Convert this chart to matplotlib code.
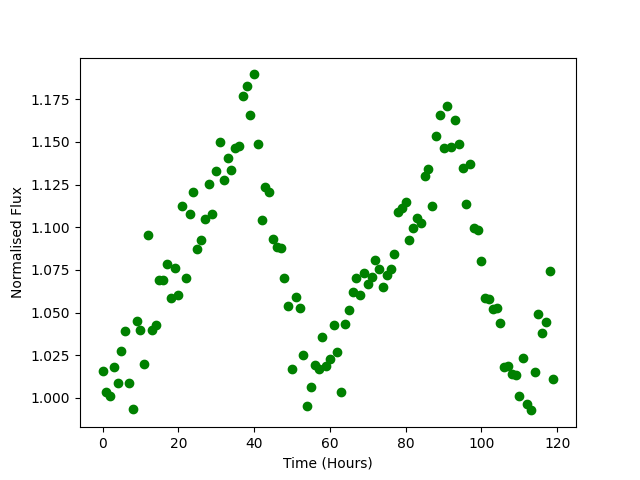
import matplotlib
matplotlib.use("Agg")
import matplotlib.pyplot as plt

# hourly samples, 0..119
time_hours = list(range(120))

flux = [
    1.0158, 1.0034, 1.0013, 1.0181, 1.0089, 1.0277, 1.0395, 1.0085, 0.9933, 1.0449,
    1.0400, 1.0198, 1.0952, 1.0400, 1.0430, 1.0693, 1.0693, 1.0783, 1.0588, 1.0764,
    1.0605, 1.1122, 1.0705, 1.1075, 1.1204, 1.0870, 1.0928, 1.1050, 1.1251, 1.1075,
    1.1327, 1.1499, 1.1277, 1.1409, 1.1335, 1.1463, 1.1474, 1.1768, 1.1827, 1.1656,
    1.1896, 1.1486, 1.1040, 1.1235, 1.1208, 1.0934, 1.0885, 1.0879, 1.0705, 1.0541,
    1.0172, 1.0594, 1.0525, 1.0250, 0.9955, 1.0067, 1.0191, 1.0172, 1.0356, 1.0189,
    1.0226, 1.0430, 1.0272, 1.0033, 1.0436, 1.0514, 1.0619, 1.0705, 1.0601, 1.0733,
    1.0665, 1.0711, 1.0807, 1.0753, 1.0653, 1.0723, 1.0753, 1.0846, 1.1088, 1.1114,
    1.1146, 1.0928, 1.0993, 1.1056, 1.1028, 1.1299, 1.1341, 1.1122, 1.1533, 1.1656,
    1.1463, 1.1710, 1.1468, 1.1627, 1.1486, 1.1345, 1.1134, 1.1369, 1.0998, 1.0982,
    1.0805, 1.0584, 1.0578, 1.0519, 1.0529, 1.0441, 1.0179, 1.0185, 1.0138, 1.0132,
    1.0009, 1.0232, 0.9967, 0.9927, 1.0154, 1.0494, 1.0383, 1.0447, 1.0741, 1.0113,
]

fig, ax = plt.subplots(figsize=(6.4, 4.8), dpi=100)
ax.plot(time_hours, flux, "o", color="green")
ax.set_xlabel("Time (Hours)")
ax.set_ylabel("Normalised Flux")

fig.savefig("out.png", dpi=100)
